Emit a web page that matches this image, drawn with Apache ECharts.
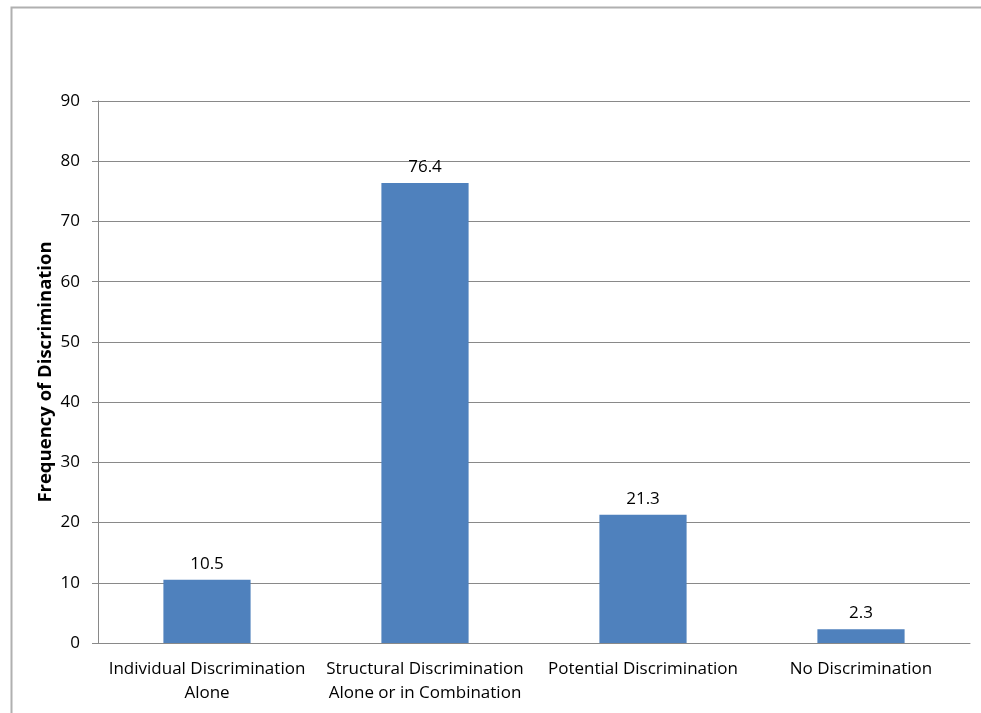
<!DOCTYPE html>
<html><head><meta charset="utf-8">
<script src="https://cdn.jsdelivr.net/npm/echarts@6/dist/echarts.min.js"></script>
<style>html,body{margin:0;padding:0;background:#fff}#c{width:981px;height:713px}</style>
</head><body><div id="c"></div>
<script>
const categories = ['Individual Discrimination\nAlone', 'Structural Discrimination\nAlone or in Combination', 'Potential Discrimination', 'No Discrimination'];
const values = [10.5, 76.4, 21.3, 2.3];
const yTicks = [0, 10, 20, 30, 40, 50, 60, 70, 80, 90];
const yAxisTitle = 'Frequency of Discrimination';

const FONT = 'Open Sans';
const chart = echarts.init(document.getElementById('c'));
chart.setOption({
  animation: false,
  textStyle: { fontFamily: FONT },
  graphic: [{
    type: 'rect', left: 9, top: 5,
    shape: { width: 1100, height: 900 },
    style: { fill: 'none', stroke: '#b0b0b0', lineWidth: 2 }
  }],
  grid: { left: 98, right: 11, top: 101, bottom: 70, containLabel: false },
  xAxis: {
    type: 'category', data: categories,
    axisLine: { lineStyle: { color: '#898989', width: 1 } },
    axisTick: { show: false },
    axisLabel: { color: '#000', fontSize: 17, lineHeight: 24, margin: 14, interval: 0, fontFamily: FONT }
  },
  yAxis: {
    type: 'value', min: yTicks[0], max: yTicks[yTicks.length - 1], interval: 10,
    name: yAxisTitle, nameLocation: 'middle', nameGap: 43, nameRotate: 90, nameMoveOverlap: false,
    nameTextStyle: { fontSize: 18.5, fontWeight: 'bold', color: '#000', fontFamily: FONT },
    axisLine: { show: true, lineStyle: { color: '#898989' } },
    axisTick: { show: true, length: 6, lineStyle: { color: '#898989' } },
    axisLabel: { color: '#000', fontSize: 17, margin: 18, fontFamily: FONT },
    splitLine: { lineStyle: { color: '#898989', width: 1 } }
  },
  series: [{
    type: 'bar', data: values, barWidth: '40%',
    itemStyle: { color: '#4F81BD' },
    label: { show: true, position: 'top', color: '#000', fontSize: 17, distance: 7, fontFamily: FONT }
  }]
});
</script></body></html>
